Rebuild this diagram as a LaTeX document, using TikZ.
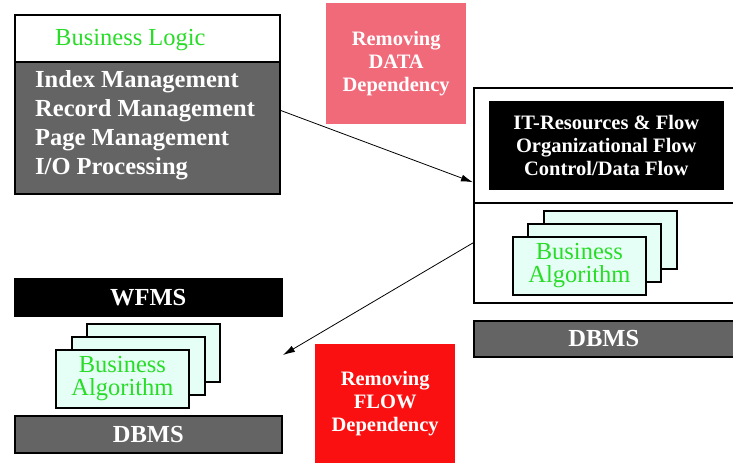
\documentclass[tikz,border=0pt]{standalone}
\usepackage{fontspec}
\setmainfont{Liberation Serif}
\usetikzlibrary{arrows.meta,calc}
\definecolor{boxgray}{RGB}{100,100,100}
\definecolor{datapink}{RGB}{240,106,122}
\definecolor{flowred}{RGB}{250,16,16}
\definecolor{cardmint}{RGB}{230,255,246}
\definecolor{logicgreen}{RGB}{40,220,40}
\begin{document}
\begin{tikzpicture}[x=1pt,y=-1pt,
  frame/.style={draw=black,line width=1.5pt,inner sep=0pt,anchor=north west},
  grayblock/.style={frame,fill=boxgray,text=white,font=\fontsize{24.5}{28}\selectfont\bfseries},
  blackblock/.style={frame,fill=black,text=white,font=\fontsize{24.5}{28}\selectfont\bfseries},
  card/.style={frame,line width=1.8pt,fill=cardmint,minimum width=133pt,minimum height=58pt,
    text=logicgreen,align=center,font=\fontsize{24.5}{23}\selectfont},
  depbox/.style={anchor=north west,inner sep=0pt,text=white,align=center,
    minimum width=140pt,font=\fontsize{20.5}{23}\selectfont\bfseries},
  dep/.style={-{Latex[length=12pt,width=7pt]},line width=0.8pt}]
\useasboundingbox (0,0) rectangle (733,463);
% left: storage layers
\node[frame,fill=white,minimum width=265pt,minimum height=47pt] (logic) at (14,14) {};
\node[anchor=west,inner sep=0pt,text=logicgreen,font=\fontsize{24.5}{28}\selectfont] (logiclbl) at (55,40) {Business Logic};
\node[grayblock,minimum width=265pt,minimum height=132pt] (mgmt) at (14,61) {};
\node[anchor=west,inner sep=0pt,align=left,text=white,font=\fontsize{24.5}{29}\selectfont\bfseries] (mgmtlbl) at (35,125)
  {Index Management\\Record Management\\Page Management\\I/O Processing};
% removing data dependency
\node[depbox,fill=datapink,minimum height=121pt] (datadep) at (326,3) {Removing\\DATA\\Dependency};
% right: flows on top of business algorithm
\node[frame,fill=white,minimum width=260pt,minimum height=215pt] (wf) at (473,87) {};
\draw[line width=1.5pt] ($(wf.north west)+(0,116)$) -- ($(wf.north east)+(0,116)$);
\node[blackblock,minimum width=233pt,minimum height=87pt,align=center,
  font=\fontsize{20.5}{23}\selectfont\bfseries] (flows) at (489,101)
  {IT-Resources \& Flow\\Organizational Flow\\Control/Data Flow};
\node[card] (algRc) at (543,210) {};
\node[card] (algRb) at (527,223) {};
\node[card] (algRa) at (512,236) {Business\\Algorithm};
\node[grayblock,minimum width=260pt,minimum height=36pt] (dbmsR) at (473,320) {DBMS};
% left bottom: WFMS
\node[blackblock,minimum width=267pt,minimum height=37pt] (wfms) at (14,278) {WFMS};
\node[card] (algLc) at (86,323) {};
\node[card] (algLb) at (71,336) {};
\node[card] (algLa) at (55,349) {Business\\Algorithm};
\node[grayblock,minimum width=267pt,minimum height=37pt] (dbmsL) at (14,415) {DBMS};
% removing flow dependency
\node[depbox,fill=flowred,minimum height=119pt] (flowdep) at (315,344) {Removing\\FLOW\\Dependency};
% arrows
\coordinate (flowtip) at (283,355);
\draw[dep] ($(mgmt.north east)!0.37!(mgmt.south east)$) -- ($(wf.north west)!0.44!(wf.south west)$);
\draw[dep] ($(wf.north west)!0.72!(wf.south west)$) -- (flowtip);
\end{tikzpicture}
\end{document}
